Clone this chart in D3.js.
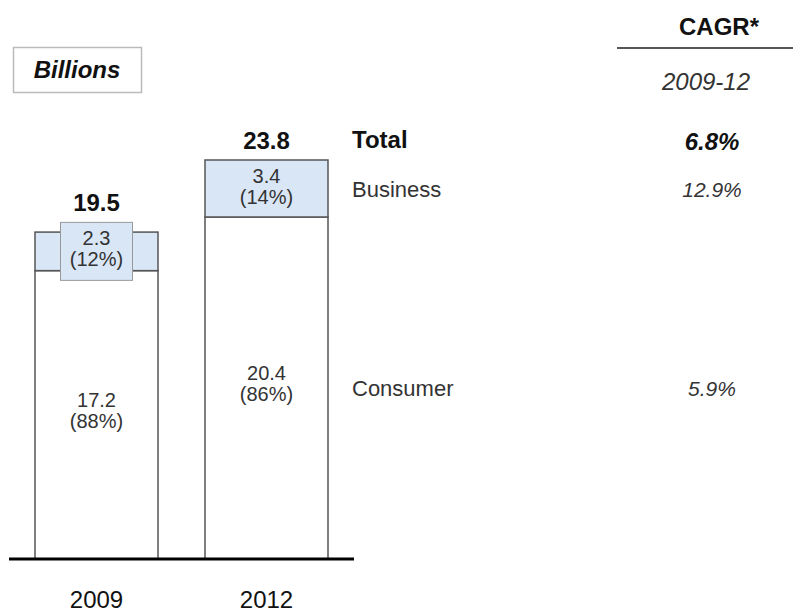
<!DOCTYPE html>
<html>
<head>
<meta charset="utf-8">
<script src="https://cdn.jsdelivr.net/npm/d3@7"></script>
<style>
  body { margin: 0; background: #fff; }
  text { font-family: "Liberation Sans", Arial, sans-serif; }
</style>
</head>
<body>
<div id="main"></div>
<script>
// Chart data
var years = ['2009', '2012'];
var consumer = [17.2, 20.4];
var business = [2.3, 3.4];
var totals = [19.5, 23.8];
var consumerShare = ['(88%)', '(86%)'];
var businessShare = ['(12%)', '(14%)'];
var rowLabels = ['Total', 'Business', 'Consumer'];
var cagrValues = ['6.8%', '12.9%', '5.9%'];
var cagrHeader = 'CAGR*';
var cagrPeriod = '2009-12';
var unitLabel = 'Billions';

var svgWidth = 793;
var svgHeight = 614;
var baseY = 559;

var svg = d3.select('#main')
  .append('svg')
  .attr('width', svgWidth)
  .attr('height', svgHeight);

// scales
var xScale = d3.scaleBand()
  .domain(years)
  .range([35, 328])
  .paddingInner(0.2765)
  .paddingOuter(0);

var yScale = d3.scaleLinear()
  .domain([0, 23.8])
  .range([baseY, 160]);

var bars = years.map(function(y, i) {
  return {year: y, consumer: consumer[i], business: business[i], total: totals[i],
          cShare: consumerShare[i], bShare: businessShare[i]};
});

var barG = svg.selectAll('.bar')
  .data(bars)
  .enter()
  .append('g')
  .attr('class', 'bar');

// consumer segment
barG.append('rect')
  .attr('x', function(d) { return xScale(d.year); })
  .attr('y', function(d) { return yScale(d.consumer); })
  .attr('width', xScale.bandwidth())
  .attr('height', function(d) { return yScale(0) - yScale(d.consumer); })
  .attr('fill', '#fff')
  .attr('stroke', '#555')
  .attr('stroke-width', 1.5);

// business segment
barG.append('rect')
  .attr('x', function(d) { return xScale(d.year); })
  .attr('y', function(d) { return yScale(d.consumer + d.business); })
  .attr('width', xScale.bandwidth())
  .attr('height', function(d) { return yScale(d.consumer) - yScale(d.consumer + d.business); })
  .attr('fill', '#d8e6f6')
  .attr('stroke', '#555')
  .attr('stroke-width', 1.5);

// label box when the business segment is too thin for two lines
var boxH = 58, boxW = 72;
barG.filter(function(d) { return yScale(d.consumer) - yScale(d.consumer + d.business) < 50; })
  .append('rect')
  .attr('x', function(d) { return xScale(d.year) + xScale.bandwidth() / 2 - boxW / 2; })
  .attr('y', function(d) { return (yScale(d.consumer) + yScale(d.consumer + d.business)) / 2 - boxH / 2; })
  .attr('width', boxW)
  .attr('height', boxH)
  .attr('fill', '#d8e6f6')
  .attr('stroke', '#999')
  .attr('stroke-width', 1);

function labelTop(d) {
  var mid = (yScale(d.consumer) + yScale(d.consumer + d.business)) / 2;
  var segTop = yScale(d.total);
  var small = yScale(d.consumer) - segTop < 50;
  return small ? Math.min(segTop, mid - boxH / 2) : segTop;
}

// segment labels, two lines each
function twoLines(sel, midFn, l1, l2) {
  var cx = function(d) { return xScale(d.year) + xScale.bandwidth() / 2; };
  sel.append('text')
    .attr('x', cx)
    .attr('y', function(d) { return midFn(d) - 2; })
    .attr('text-anchor', 'middle')
    .attr('font-size', 20)
    .attr('fill', '#333')
    .text(l1);
  sel.append('text')
    .attr('x', cx)
    .attr('y', function(d) { return midFn(d) + 19; })
    .attr('text-anchor', 'middle')
    .attr('font-size', 20)
    .attr('fill', '#333')
    .text(l2);
}

twoLines(barG, function(d) { return (yScale(0) + yScale(d.consumer)) / 2 - 6; },
  function(d) { return d.consumer.toFixed(1); }, function(d) { return d.cShare; });
twoLines(barG, function(d) { return (yScale(d.consumer) + yScale(d.total)) / 2 - 4; },
  function(d) { return d.business.toFixed(1); }, function(d) { return d.bShare; });

// totals
barG.append('text')
  .attr('x', function(d) { return xScale(d.year) + xScale.bandwidth() / 2; })
  .attr('y', function(d) { return labelTop(d) - 11; })
  .attr('text-anchor', 'middle')
  .attr('font-size', 24)
  .attr('font-weight', 'bold')
  .attr('fill', '#111')
  .text(function(d) { return d.total.toFixed(1); });

// year labels
barG.append('text')
  .attr('x', function(d) { return xScale(d.year) + xScale.bandwidth() / 2; })
  .attr('y', 608)
  .attr('text-anchor', 'middle')
  .attr('font-size', 24)
  .attr('fill', '#111')
  .text(function(d) { return d.year; });

// baseline
svg.append('line')
  .attr('x1', 9).attr('x2', 354)
  .attr('y1', baseY).attr('y2', baseY)
  .attr('stroke', '#000')
  .attr('stroke-width', 3);

// row labels and CAGR column, aligned to the 2012 bar
var last = bars[bars.length - 1];
var rowY = [
  yScale(last.total) - 12,
  (yScale(last.consumer) + yScale(last.total)) / 2 + 8,
  (yScale(0) + yScale(last.consumer)) / 2 + 8
];

svg.selectAll('.row-label')
  .data(rowLabels)
  .enter()
  .append('text')
  .attr('class', 'row-label')
  .attr('x', 352)
  .attr('y', function(d, i) { return rowY[i]; })
  .attr('font-size', function(d, i) { return i === 0 ? 24 : 22; })
  .attr('font-weight', function(d, i) { return i === 0 ? 'bold' : 'normal'; })
  .attr('fill', function(d, i) { return i === 0 ? '#111' : '#333'; })
  .text(function(d) { return d; });

svg.selectAll('.cagr')
  .data(cagrValues)
  .enter()
  .append('text')
  .attr('class', 'cagr')
  .attr('x', 712)
  .attr('y', function(d, i) { return rowY[i] + (i === 0 ? 2 : 0); })
  .attr('text-anchor', 'middle')
  .attr('font-size', function(d, i) { return i === 0 ? 24 : 21; })
  .attr('font-style', 'italic')
  .attr('font-weight', function(d, i) { return i === 0 ? 'bold' : 'normal'; })
  .attr('fill', function(d, i) { return i === 0 ? '#111' : '#333'; })
  .text(function(d) { return d; });

// CAGR header
svg.append('text')
  .attr('x', 719).attr('y', 35)
  .attr('text-anchor', 'middle')
  .attr('font-size', 24)
  .attr('font-weight', 'bold')
  .attr('fill', '#111')
  .text(cagrHeader);

svg.append('line')
  .attr('x1', 617).attr('x2', 793)
  .attr('y1', 48).attr('y2', 48)
  .attr('stroke', '#555')
  .attr('stroke-width', 2);

svg.append('text')
  .attr('x', 706).attr('y', 90)
  .attr('text-anchor', 'middle')
  .attr('font-size', 24)
  .attr('font-style', 'italic')
  .attr('fill', '#333')
  .text(cagrPeriod);

// unit box
svg.append('rect')
  .attr('x', 13.5).attr('y', 47.5)
  .attr('width', 128).attr('height', 45)
  .attr('fill', '#fff')
  .attr('stroke', '#bbb')
  .attr('stroke-width', 1.5);

svg.append('text')
  .attr('x', 77).attr('y', 78)
  .attr('text-anchor', 'middle')
  .attr('font-size', 24)
  .attr('font-weight', 'bold')
  .attr('font-style', 'italic')
  .attr('fill', '#111')
  .text(unitLabel);
</script>
</body>
</html>
